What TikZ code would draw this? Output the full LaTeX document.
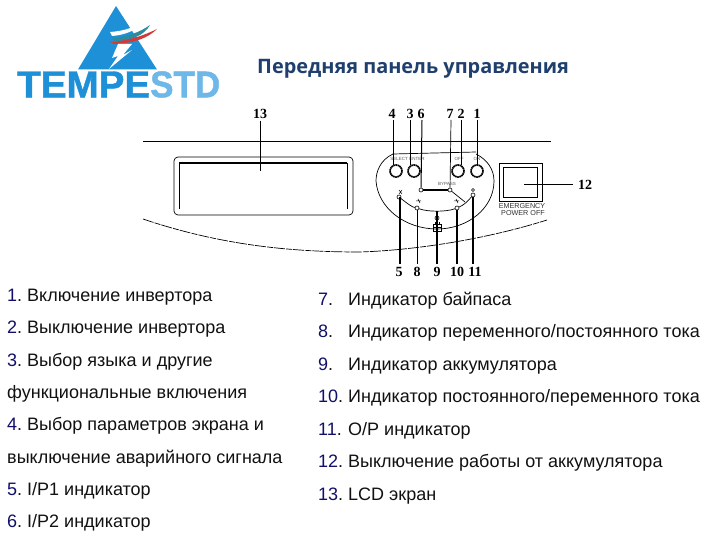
\documentclass[tikz,border=0pt]{standalone}
\usepackage{fontspec}
\usepackage{graphicx}
\setmainfont{Liberation Sans}
\newfontfamily\titlef{Open Sans}
\newfontfamily\numf{Liberation Serif}
\newfontfamily\logof[FakeBold=1.2]{Liberation Sans}
\definecolor{logoblue}{HTML}{1E90D8}
\definecolor{logolight}{HTML}{6DB8E8}
\definecolor{logoteal}{HTML}{2A8C9C}
\definecolor{logored}{HTML}{D23A3A}
\definecolor{txt}{HTML}{111111}
\definecolor{numblue}{HTML}{10106A}
\definecolor{titleblue}{HTML}{1F3F6E}
\newcommand{\nb}[1]{\textcolor{numblue}{#1}.}
\newcommand{\rb}[1]{\makebox[30pt][l]{\textcolor{numblue}{#1}.}}
\tikzset{
  x=1pt,y=-1pt,
  bodyL/.style={anchor=base west,inner sep=0,font=\frenchspacing\fontsize{18}{20}\selectfont,text=txt},
  bodyR/.style={anchor=base west,inner sep=0,font=\frenchspacing\fontsize{18}{20}\selectfont,text=txt},
  num/.style={inner sep=0,font=\numf\bfseries\fontsize{14}{16}\selectfont},
  tiny/.style={inner sep=0,font=\fontsize{4.5}{5}\selectfont,text=black!65},
  small/.style={inner sep=0,font=\fontsize{7.2}{8.5}\selectfont,text=black!80},
  leader/.style={line width=1pt,black},
  knob/.style={circle,draw,line width=1.7pt,dash pattern=on 1.6pt off .5pt,minimum size=12pt,inner sep=0},
  lamp/.style={circle,draw,line width=.6pt,minimum size=4pt,inner sep=0,fill=white},
  panel/.style={line width=.7pt,black},
  broken/.style={line width=.7pt,black,dash pattern=on 11pt off 1.2pt on 6pt off 1pt}
}
\begin{document}
\begin{tikzpicture}
\useasboundingbox[fill=white] (0,0) rectangle (720,540);
% logo
\fill[logoblue] (116,6) -- (157,69.5) -- (78,69.5) -- cycle;
\fill[white] (110,32) .. controls (125,31) and (135,27) .. (144,21) .. controls (138,30) and (125,35) .. (112,36) -- cycle;
\fill[logoteal] (112,38) .. controls (128,37) and (140,32) .. (150,25) .. controls (144,36) and (130,41) .. (114,41) -- cycle;
\fill[logored] (110,42) .. controls (128,41) and (145,35) .. (157,29) .. controls (148,38) and (135,43) .. (114,44) -- cycle;
\fill[white] (118,44) -- (132,44) -- (123,55) -- (132,50) -- (109,69) -- (118,56) -- (112,58) -- cycle;
\node[inner sep=0,anchor=west] (logoA) at (17,84.5) {\resizebox{133pt}{26pt}{\logof\bfseries\color{logoblue}TEMPE}};
\node[inner sep=0,anchor=west] (logoB) at (150,84.5) {\resizebox{70pt}{26pt}{\logof\bfseries\color{logolight}STD}};
% title
\node[anchor=base west,inner sep=0,font=\titlef\bfseries\fontsize{19.9}{24}\selectfont,text=titleblue] (title) at (257,73.5) {Передняя панель управления};
% panel
\draw[panel] (143,141) -- (551,141);
\draw[broken] (143,219) .. controls (220,245) and (290,252) .. (360,252) .. controls (420,250) and (490,238) .. (547,220);
\draw[panel,rounded corners=4pt] (174,157) rectangle (353,215);
\draw[panel] (179,209) -- (179,163) -- (347,163) -- (347,209);
\draw[line width=1.6pt] (179,163) -- (347,163);
% oval
\draw[panel] (393,154) .. controls (380,160) and (376,172) .. (376,181) .. controls (378,208) and (405,229) .. (437,229) .. controls (468,229) and (494,208) .. (494,181) .. controls (494,170) and (488,160) .. (476,154);
\draw[panel] (393,154) -- (476,152);
% knobs
\node[knob] (b4) at (396,171) {};
\node[knob] (b3) at (414,171) {};
\node[knob] (b2) at (458,171) {};
\node[knob] (b1) at (477,171) {};
\node[tiny] (tselect) at (399,159) {SELECT};
\node[tiny] (tenter) at (417,159) {ENTER};
\node[tiny] (toff) at (459,159) {OFF};
\node[tiny] (ton) at (477,159) {ON};
\node[tiny] (tbypass) at (447,184) {BYPASS};
% lamps
\node[lamp] (l6) at (421,190) {};
\node[lamp] (l7) at (450,190) {};
\node[lamp] (l5) at (399,197) {};
\node[lamp] (l8) at (417,208) {};
\node[lamp] (l9) at (437,218) {};
\node[lamp] (l10) at (457,208) {};
\node[lamp] (l11) at (473,195) {};
\draw[panel] (l5) .. controls (408,204) and (412,207) .. (l8) .. controls (428,212) and (446,212) .. (l10) .. controls (464,205) and (468,201) .. (l11);
\draw[panel] (l7) -- (465,202);
\draw[line width=1.3pt] (l6) -- (l7);
% small icons
\draw[line width=.5pt] (399,190) -- (402,194) (402,190) -- (399,194);
\draw[line width=.5pt] (416,201) -- (421,201) (418,199) -- (420,203);
\draw[line width=.5pt] (454,201) -- (459,201) (456,199) -- (458,203);
\draw[line width=.5pt] (473,190) circle (1.5pt);
\draw[line width=.6pt] (433,224) rectangle (441,231);
\draw[line width=.6pt] (435,222.5) -- (435,224) (439,222.5) -- (439,224) (433,227.5) -- (441,227.5);
% emergency
\draw[panel] (499,163) rectangle (542,201);
\draw[panel] (503,167) rectangle (537,197);
\node[small] (em1) at (522,206) {EMERGENCY};
\node[small] (em2) at (523,213) {POWER OFF};
% number labels
\node[num] (n4) at (392,114) {4};
\node[num] (n3) at (410,114) {3};
\node[num] (n6) at (421,114) {6};
\node[num] (n7) at (450,114) {7};
\node[num] (n2) at (461,114) {2};
\node[num] (n1) at (477,114) {1};
\node[num] (n13) at (260,114) {13};
\node[num] (n12) at (585,185) {12};
\node[num] (n5) at (399,272) {5};
\node[num] (n8) at (417,272) {8};
\node[num] (n9) at (437,272) {9};
\node[num] (n10) at (457,272) {10};
\node[num] (n11) at (475,272) {11};
\coordinate (c13) at (260,171);
\coordinate (c12) at (524,185);
\coordinate (t4) at (393,120);
\coordinate (t3) at (410,120);
\coordinate (t6) at (422,120);
\coordinate (t7) at (451,120);
\coordinate (t2) at (461,120);
\coordinate (t1) at (477,120);
\coordinate (u5) at (400,264);
\coordinate (u8) at (417,264);
\coordinate (u9) at (437,264);
\coordinate (u10) at (457,264);
\coordinate (u11) at (473,264);
\draw[line width=.7pt] (260,121) -- (c13);
\draw[line width=.8pt] (t4) -- (393,165);
\draw[leader] (t3) -- (410,165);
\draw[leader] (t6) -- (l6);
\draw[line width=.7pt] (t7) -- (l7);
\draw[leader] (t2) -- (461,165);
\draw[leader] (t1) -- (477,165);
\draw[leader] (c12) -- (573,185);
\draw[line width=1.1pt] (u5) -- (400,197);
\draw[panel] (u8) -- (l8);
\draw[line width=1.1pt] (u9) -- (437,211);
\draw[line width=1.1pt] (u10) -- (l10);
\draw[line width=1.1pt] (u11) -- (l11);
% left column
\node[bodyL] (a1) at (7,301) {\nb{1} Включение инвертора};
\node[bodyL] (a2) at (7,333) {\nb{2} Выключение инвертора};
\node[bodyL] (a3) at (7,366) {\nb{3} Выбор языка и другие};
\node[bodyL] (a3b) at (7,398) {функциональные включения};
\node[bodyL] (a4) at (7,430) {\nb{4} Выбор параметров экрана и};
\node[bodyL] (a4b) at (7,463) {выключение аварийного сигнала};
\node[bodyL] (a5) at (7,495.5) {\nb{5} I/P1 индикатор};
\node[bodyL] (a6) at (7,527.5) {\nb{6} I/P2 индикатор};
% right column
\node[bodyR] (r7) at (318,305) {\rb{7}Индикатор байпаса};
\node[bodyR] (r8) at (318,337) {\rb{8}Индикатор переменного/постоянного тока};
\node[bodyR] (r9) at (318,370) {\rb{9}Индикатор аккумулятора};
\node[bodyR] (r10) at (318,402.5) {\rb{10}Индикатор постоянного/переменного тока};
\node[bodyR] (r11) at (318,435) {\rb{11}O/P индикатор};
\node[bodyR] (r12) at (318,467) {\rb{12}Выключение работы от аккумулятора};
\node[bodyR] (r13) at (318,500) {\rb{13}LCD экран};
\end{tikzpicture}
\end{document}
